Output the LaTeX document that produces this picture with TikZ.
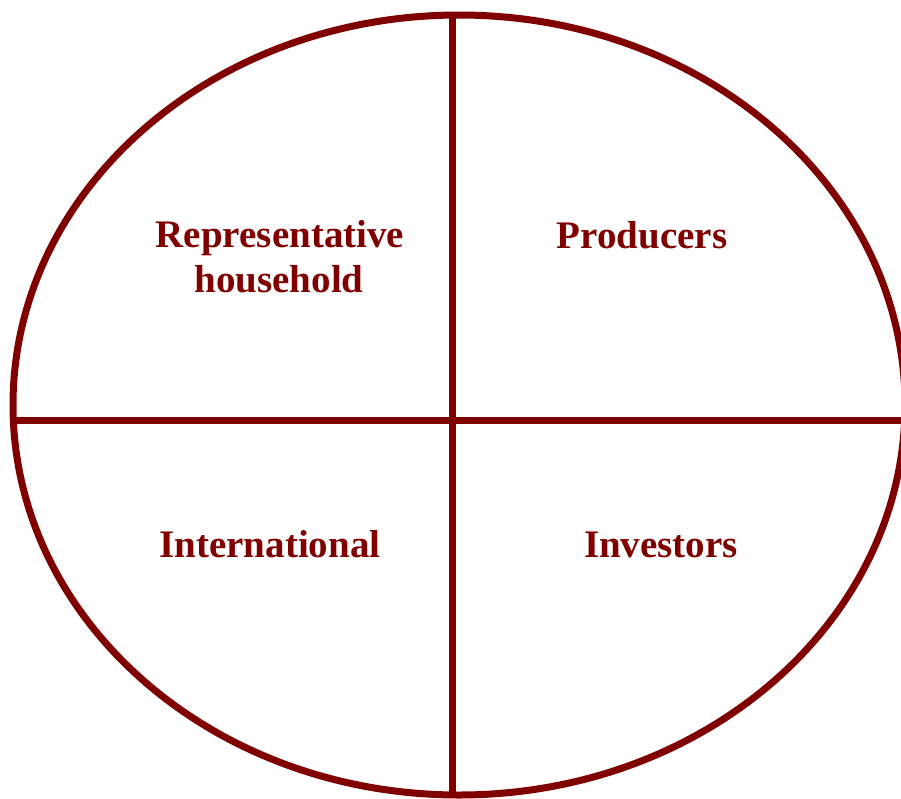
\documentclass[tikz,border=0pt]{standalone}
\usepackage{fontspec}
\setmainfont{Liberation Serif}
\definecolor{maroonline}{RGB}{128,0,0}
\tikzset{
  outline/.style={draw=maroonline, line width=7pt},
  label/.style={text=maroonline, font=\fontsize{39}{45}\selectfont\bfseries, inner sep=0pt, anchor=base}
}
\begin{document}
\begin{tikzpicture}[x=1pt,y=-1pt]
\useasboundingbox (0,0) rectangle (901,798);
\clip (0,0) rectangle (901,798);
\fill[white] (0,0) rectangle (901,798);
\draw[outline] (459,405) ellipse [x radius=446, y radius=390];
\coordinate (top) at (452,14);
\coordinate (bottom) at (452,796);
\coordinate (left) at (13,420);
\coordinate (right) at (905,420);
\draw[outline] (top) -- (bottom);
\draw[outline] (left) -- (right);
\node[label] (rep1) at (280,247) {Representative};
\node[label] (rep2) at (279,292) {household};
\node[label] (prod) at (642,248) {Producers};
\node[label] (intl) at (270,557) {International};
\node[label] (inv) at (661,557) {Investors};
\end{tikzpicture}
\end{document}
